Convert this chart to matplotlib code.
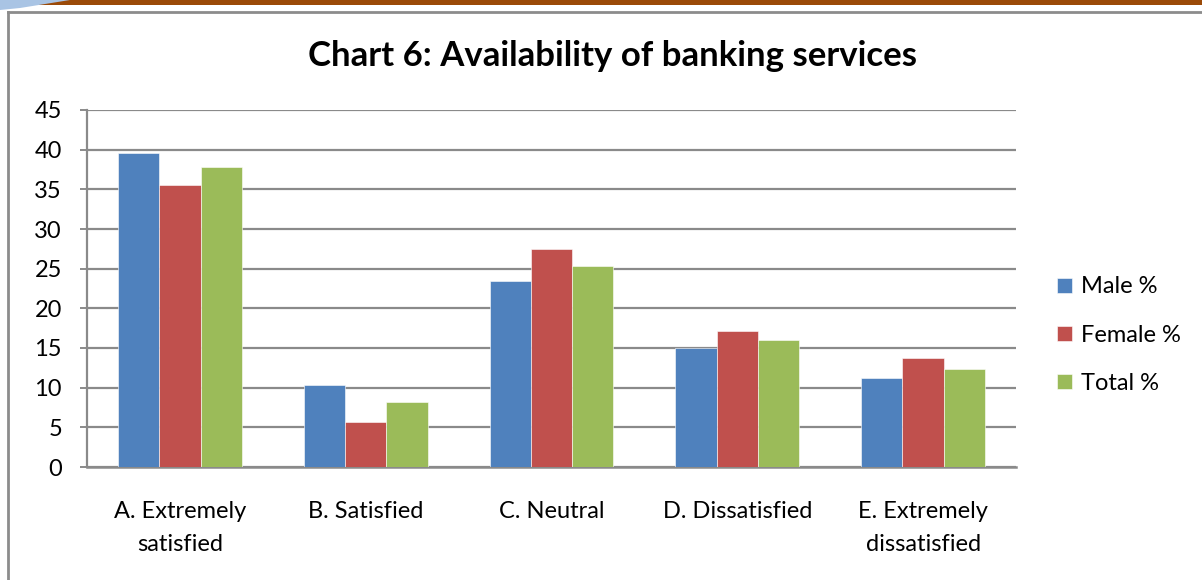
import matplotlib.pyplot as plt
import numpy as np
from matplotlib.lines import Line2D
from matplotlib.patches import Rectangle, Polygon

plt.rcParams['font.family'] = ['Lato', 'DejaVu Sans']

categories = ["A. Extremely\nsatisfied", "B. Satisfied", "C. Neutral",
              "D. Dissatisfied", "E. Extremely\ndissatisfied"]
male = [39.6, 10.3, 23.5, 15.0, 11.2]
female = [35.6, 5.7, 27.5, 17.1, 13.7]
total = [37.8, 8.2, 25.3, 16.0, 12.3]
series_names = ["Male %", "Female %", "Total %"]
colors = ["#4F81BD", "#C0504D", "#9BBB59"]

W, H = 1202, 580
fig = plt.figure(figsize=(W / 100, H / 100), dpi=100)

# page border strip along the top, with the small blue swoosh at the left
fig.patches.append(Rectangle((0, 1 - 5 / H), 1, 5 / H, transform=fig.transFigure,
                             facecolor="#9B4A08", edgecolor="none"))
fig.patches.append(Polygon([(0, 1), (70 / W, 1), (20 / W, 1 - 8 / H), (0, 1 - 10 / H)],
                           closed=True, transform=fig.transFigure,
                           facecolor="#A9C4E4", edgecolor="none"))

# chart frame (left and top edges visible)
fig.lines.append(Line2D([8 / W, 8 / W], [0, 1 - 12 / H], transform=fig.transFigure,
                        color="#8C8C8C", lw=2))
fig.lines.append(Line2D([8 / W, 1], [1 - 12 / H, 1 - 12 / H], transform=fig.transFigure,
                        color="#8C8C8C", lw=2))

ax = fig.add_axes([87 / W, 1 - 467 / H, (1016 - 87) / W, (467 - 110) / H])

x = np.arange(len(categories))
bw = 1 / 4.5
for i, (vals, name, c) in enumerate(zip([male, female, total], series_names, colors)):
    ax.bar(x + (i - 1) * bw, vals, width=bw, color=c, label=name,
           edgecolor="white", linewidth=0.4, zorder=3)

ax.set_xlim(-0.5, len(categories) - 0.5)
ax.set_ylim(0, 45)
ax.set_yticks(range(0, 46, 5))
ax.yaxis.grid(True, color="#8A8A8A", lw=1.6, zorder=0)
ax.set_axisbelow(True)

for s in ["top", "right"]:
    ax.spines[s].set_visible(False)
ax.spines["left"].set_color("#8A8A8A")
ax.spines["left"].set_linewidth(1.6)
ax.spines["bottom"].set_color("#8A8A8A")
ax.spines["bottom"].set_linewidth(1.8)

ax.tick_params(axis="y", length=5, width=1.4, color="#8A8A8A", labelsize=17, pad=13)
ax.tick_params(axis="x", length=0, labelsize=17, pad=24.5)
ax.set_xticks(x)
ax.set_xticklabels(categories, linespacing=1.7)

fig.text(612 / W, 1 - 56 / H, "Chart 6: Availability of banking services",
         ha="center", va="center", fontsize=25, fontweight="bold")

ax.legend(loc="center left", bbox_to_anchor=((1048 - 87) / (1016 - 87), (467 - 335) / (467 - 110)),
          frameon=False, fontsize=17, handlelength=0.6, handleheight=0.6,
          labelspacing=1.15, handletextpad=0.4, borderaxespad=0)

fig.savefig("out.png", dpi=100)
